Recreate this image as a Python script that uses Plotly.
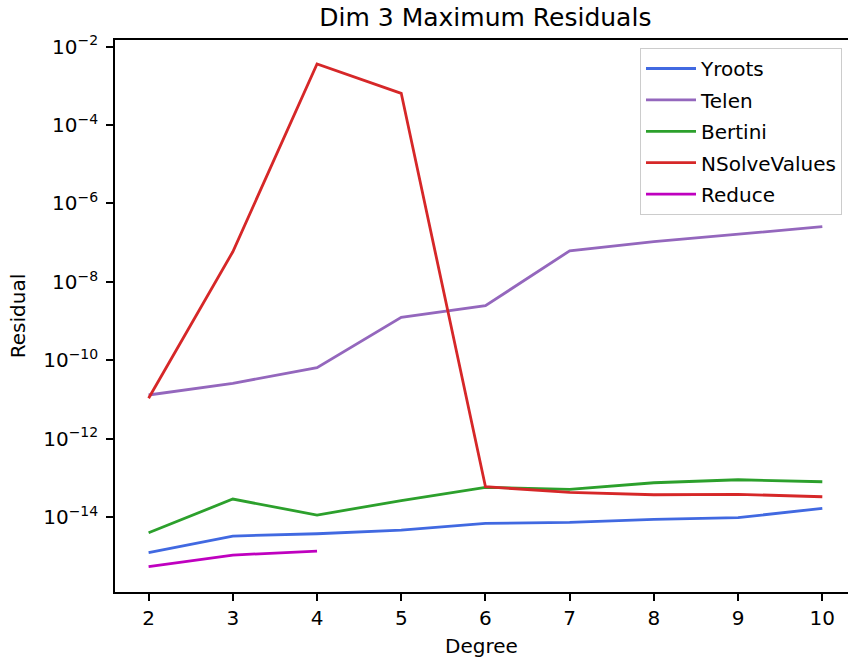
import plotly.graph_objects as go

degrees = [2, 3, 4, 5, 6, 7, 8, 9, 10]
yroots = [1.25e-15, 3.33e-15, 3.81e-15, 4.73e-15, 7.0e-15, 7.4e-15, 8.9e-15, 9.8e-15, 1.69e-14]
telen = [1.31e-11, 2.6e-11, 6.5e-11, 1.25e-9, 2.47e-9, 6.2e-8, 1.06e-7, 1.63e-7, 2.55e-7]
bertini = [4.04e-15, 2.92e-14, 1.14e-14, 2.67e-14, 5.8e-14, 5.16e-14, 7.6e-14, 9.06e-14, 8.05e-14]
nsolve = [1.08e-11, 5.87e-8, 3.58e-3, 6.41e-4, 6.0e-14, 4.33e-14, 3.76e-14, 3.85e-14, 3.34e-14]
reduce_deg = [2, 3, 4]
reduce_vals = [5.5e-16, 1.09e-15, 1.38e-15]

series = [
    ("Yroots", degrees, yroots, "#4169e1"),
    ("Telen", degrees, telen, "#9467bd"),
    ("Bertini", degrees, bertini, "#2ca02c"),
    ("NSolveValues", degrees, nsolve, "#d62728"),
    ("Reduce", reduce_deg, reduce_vals, "#bf00bf"),
]

ytick_vals = [1e-14, 1e-12, 1e-10, 1e-8, 1e-6, 1e-4, 1e-2]
ytick_text = ["10<sup>\u221214</sup>", "10<sup>\u221212</sup>", "10<sup>\u221210</sup>",
              "10<sup>\u22128</sup>", "10<sup>\u22126</sup>", "10<sup>\u22124</sup>",
              "10<sup>\u22122</sup>"]

FONT = "DejaVu Sans"

fig = go.Figure()
for name, xs, ys, color in series:
    fig.add_trace(go.Scatter(x=xs, y=ys, mode="lines", name=name,
                             legendgroup=name,
                             line=dict(color=color, width=2.8)))

fig.update_layout(
    width=848, height=660,
    margin=dict(l=115, r=0, t=40, b=68),
    plot_bgcolor="white", paper_bgcolor="white",
    font=dict(family=FONT, size=20, color="black"),
    title=dict(text="Dim 3 Maximum Residuals", font=dict(size=25, color="black"),
               xref="paper", x=0.5053, xanchor="center",
               yref="container", y=1 - 17.5 / 660, yanchor="middle"),
    legend=dict(x=(842 - 115) / 733.0, xanchor="right", y=(592 - 48) / 552.0, yanchor="top",
                bordercolor="#cccccc", borderwidth=1, bgcolor="rgba(255,255,255,0.8)",
                font=dict(size=20), tracegroupgap=2.4, traceorder="grouped",
                itemwidth=50),
    showlegend=True,
)
fig.update_xaxes(range=[1.601, 10.305], tickvals=degrees, ticks="outside", ticklen=7,
                 tickwidth=1.6, tickcolor="black", showline=True, linecolor="black",
                 linewidth=1.6, mirror=True, showgrid=False, zeroline=False,
                 title=dict(text="Degree", font=dict(size=20), standoff=10))
fig.update_yaxes(type="log", range=[-15.904, -1.834], tickvals=ytick_vals, ticktext=ytick_text,
                 ticks="outside", ticklen=7, tickwidth=1.6, tickcolor="black",
                 ticklabelstandoff=4,
                 showline=True, linecolor="black", linewidth=1.6, mirror=False,
                 showgrid=False, zeroline=False,
                 title=dict(text="Residual", font=dict(size=20), standoff=12))

fig.write_html("out.html", config={"displayModeBar": False},
               post_script="document.body.style.margin='0';"
                           "document.documentElement.style.overflow='hidden';")
